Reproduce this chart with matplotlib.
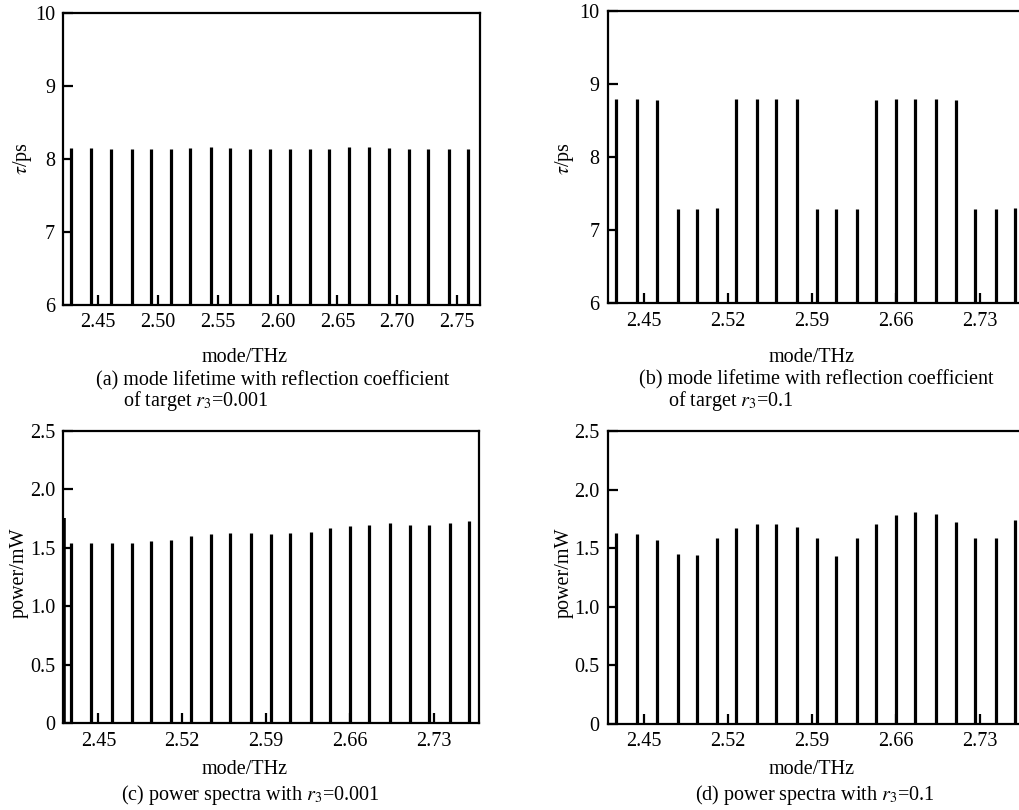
import matplotlib
matplotlib.use("Agg")
import matplotlib.pyplot as plt

plt.rcParams['font.family'] = ['Liberation Serif', 'DejaVu Serif']
plt.rcParams['mathtext.fontset'] = 'stix'

FS = 14.5

# mode frequencies (THz)
modes = [2.427, 2.444, 2.461, 2.478, 2.494, 2.511, 2.527, 2.544, 2.560, 2.577, 2.594,
         2.610, 2.627, 2.643, 2.660, 2.676, 2.693, 2.710, 2.726, 2.743, 2.759]

# (a) mode lifetime, r3 = 0.001
tau_a = [8.15, 8.15, 8.14, 8.14, 8.13, 8.14, 8.15, 8.16, 8.15, 8.14, 8.14,
         8.14, 8.14, 8.14, 8.16, 8.16, 8.15, 8.14, 8.14, 8.13, 8.14]
# (b) mode lifetime, r3 = 0.1
tau_b = [8.80, 8.80, 8.78, 7.29, 7.29, 7.30, 8.80, 8.80, 8.80, 8.79, 7.29,
         7.29, 7.29, 8.78, 8.80, 8.80, 8.80, 8.78, 7.29, 7.29, 7.30]
# (c) power spectra, r3 = 0.001 (plus a clipped mode at the left edge)
edge_mode = 2.4215
edge_power = 1.76
power_c = [1.54, 1.54, 1.54, 1.54, 1.56, 1.57, 1.60, 1.62, 1.63, 1.63, 1.62,
           1.63, 1.64, 1.67, 1.69, 1.70, 1.71, 1.70, 1.70, 1.71, 1.73]
# (d) power spectra, r3 = 0.1
power_d = [1.63, 1.62, 1.57, 1.45, 1.44, 1.59, 1.67, 1.71, 1.71, 1.68, 1.59,
           1.43, 1.59, 1.71, 1.78, 1.81, 1.79, 1.72, 1.59, 1.59, 1.74]

xt_a = [2.45, 2.50, 2.55, 2.60, 2.65, 2.70, 2.75]
xt_b = [2.45, 2.52, 2.59, 2.66, 2.73]
yt_tau = [6, 7, 8, 9, 10]
yt_pow = [0, 0.5, 1.0, 1.5, 2.0, 2.5]
yl_pow = ['0', '0.5', '1.0', '1.5', '2.0', '2.5']

fig = plt.figure(figsize=(10.2, 8.1), dpi=100)

ax_a = fig.add_axes([0.0621, 0.6235, 0.4085, 0.3605])
ax_b = fig.add_axes([0.5958, 0.6256, 0.4110, 0.3608])
ax_c = fig.add_axes([0.0621, 0.1070, 0.4078, 0.3609])
ax_d = fig.add_axes([0.5958, 0.1062, 0.4110, 0.3617])


def style(ax, xticks, yticks, ylabels, xlim, ylim):
    ax.set_xlim(*xlim)
    ax.set_ylim(*ylim)
    ax.set_xticks(xticks)
    ax.set_xticklabels(['%.2f' % v for v in xticks])
    ax.set_yticks(yticks)
    ax.set_yticklabels(ylabels)
    ax.tick_params(direction='in', length=7, width=1.6, labelsize=FS,
                   top=False, right=False)
    ax.tick_params(axis='x', pad=6)
    ax.tick_params(axis='y', pad=6)
    for s in ax.spines.values():
        s.set_linewidth(1.6)


ax_a.vlines(modes, 6, tau_a, color='black', linewidth=2.3)
style(ax_a, xt_a, yt_tau, [str(v) for v in yt_tau], (2.4208, 2.7692), (6, 10))

ax_b.vlines(modes, 6, tau_b, color='black', linewidth=2.3)
style(ax_b, xt_b, yt_tau, [str(v) for v in yt_tau], (2.4197, 2.769), (6, 10))

ax_c.vlines(modes, 0, power_c, color='black', linewidth=2.3)
ax_c.vlines([edge_mode], 0, [edge_power], color='black', linewidth=2.6)
style(ax_c, xt_b, yt_pow, yl_pow, (2.4208, 2.7678), (0, 2.5))

ax_d.vlines(modes, 0, power_d, color='black', linewidth=2.3)
style(ax_d, xt_b, yt_pow, yl_pow, (2.4197, 2.769), (0, 2.5))

# y labels
fig.text(23 / 1020, 1 - 158 / 810, r'$\tau$/ps', rotation=90, fontsize=FS,
         ha='center', va='center')
fig.text(564 / 1020, 1 - 158 / 810, r'$\tau$/ps', rotation=90, fontsize=FS,
         ha='center', va='center')
fig.text(19 / 1020, 1 - 573 / 810, 'power/mW', rotation=90, fontsize=FS,
         ha='center', va='center')
fig.text(564 / 1020, 1 - 573 / 810, 'power/mW', rotation=90, fontsize=FS,
         ha='center', va='center')

# x labels and captions
fig.text(245 / 1020, 1 - 358 / 810, 'mode/THz', fontsize=FS, ha='center', va='center')
fig.text(812 / 1020, 1 - 358 / 810, 'mode/THz', fontsize=FS, ha='center', va='center')
fig.text(245 / 1020, 1 - 770 / 810, 'mode/THz', fontsize=FS, ha='center', va='center')
fig.text(812 / 1020, 1 - 770 / 810, 'mode/THz', fontsize=FS, ha='center', va='center')

fig.text(96 / 1020, 1 - 381 / 810, '(a) mode lifetime with reflection coefficient',
         fontsize=FS, ha='left', va='center')
fig.text(123 / 1020, 1 - 401 / 810, r'of target $r_3$=0.001',
         fontsize=FS, ha='left', va='center')
fig.text(639 / 1020, 1 - 380 / 810, '(b) mode lifetime with reflection coefficient',
         fontsize=FS, ha='left', va='center')
fig.text(668 / 1020, 1 - 401 / 810, r'of target $r_3$=0.1',
         fontsize=FS, ha='left', va='center')
fig.text(250 / 1020, 1 - 795 / 810, r'(c) power spectra with $r_3$=0.001',
         fontsize=FS, ha='center', va='center')
fig.text(815 / 1020, 1 - 795 / 810, r'(d) power spectra with $r_3$=0.1',
         fontsize=FS, ha='center', va='center')

fig.savefig('out.png', dpi=100)
